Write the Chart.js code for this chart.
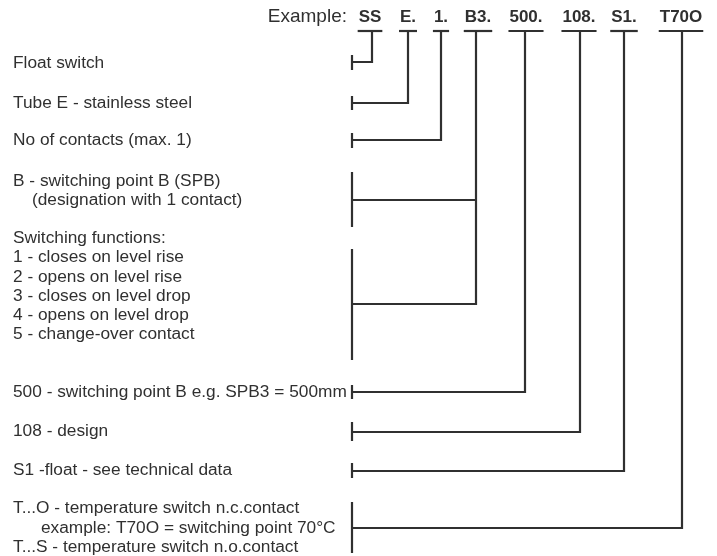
<!DOCTYPE html>
<html>
<head>
<meta charset="utf-8">
<script src="https://cdn.jsdelivr.net/npm/chart.js@4/dist/chart.umd.min.js"></script>
<style>
  html, body { margin: 0; padding: 0; background: #ffffff; }
  #wrap { position: relative; width: 717px; height: 556px; }
</style>
</head>
<body>
<div id="wrap"><canvas id="c"></canvas></div>
<script>
// ---- data ----
const codeLabels = ['SS', 'E.', '1.', 'B3.', '500.', '108.', 'S1.', 'T70O'];
const codeStemX  = [372, 408, 441, 476, 525, 580, 624, 682];
const labelX     = [370, 408, 441, 478, 526, 579, 624, 681];
// row (y) where each code's branch meets the left bracket; B3 has two
const codeJoins  = [[62], [103], [140], [200, 304], [392], [432], [471], [528]];
// left bracket spans [top, bottom]
const bracketTop    = [55, 96, 133, 172, 249, 385, 422, 463, 502];
const bracketBottom = [70, 110, 148, 227, 360, 399, 441, 478, 553];
const descText = [
  'Float switch',
  'Tube E - stainless steel',
  'No of contacts (max. 1)',
  'B - switching point B (SPB)',
  '(designation with 1 contact)',
  'Switching functions:',
  '1 - closes on level rise',
  '2 - opens on level rise',
  '3 - closes on level drop',
  '4 - opens on level drop',
  '5 - change-over contact',
  '500 - switching point B e.g. SPB3 = 500mm',
  '108 - design',
  'S1 -float - see technical data',
  'T...O - temperature switch n.c.contact',
  'example: T70O = switching point 70°C',
  'T...S - temperature switch n.o.contact'
];
const descY = [63, 103, 140, 181, 200, 238, 257, 277, 296, 315, 334, 392, 431, 470, 508, 528, 547];
const descX = [13, 13, 13, 13, 32, 13, 13, 13, 13, 13, 13, 13, 13, 13, 13, 41, 13];
const exampleTitle = 'Example:';

// ---- layout constants ----
const INK = '#303030';
const bodyFont = '17.3px "Liberation Sans", Arial, sans-serif';
const boldFont = 'bold 17px "Liberation Sans", Arial, sans-serif';
const titleFont = '19px "Liberation Sans", Arial, sans-serif';
const underlineY = 31;
const bracketX = 352;
const labelBase = 21.5;

// measure label widths for underlines
const mctx = document.createElement('canvas').getContext('2d');
mctx.font = boldFont;
const labelW = codeLabels.map(t => mctx.measureText(t).width);

const datasets = [];
function seg(points) {
  datasets.push({
    type: 'line',
    data: points,
    borderColor: INK,
    borderWidth: 2.2,
    pointRadius: 0,
    fill: false,
    tension: 0,
    borderCapStyle: 'butt',
    borderJoinStyle: 'miter'
  });
}
// underlines
codeLabels.forEach((t, i) => {
  const w = labelW[i] + 2;
  seg([{x: labelX[i] - w / 2, y: underlineY}, {x: labelX[i] + w / 2, y: underlineY}]);
});
// stems and branches
codeStemX.forEach((x, i) => {
  const joins = codeJoins[i];
  const last = Math.max(...joins);
  seg([{x: x, y: underlineY}, {x: x, y: last}, {x: bracketX, y: last}]);
  joins.filter(j => j !== last).forEach(j => seg([{x: bracketX, y: j}, {x: x, y: j}]));
});
// brackets
bracketTop.forEach((t, i) => seg([{x: bracketX, y: t}, {x: bracketX, y: bracketBottom[i]}]));

const textPlugin = {
  id: 'texts',
  afterDraw(chart) {
    const {ctx, scales: {x, y}} = chart;
    ctx.save();
    ctx.fillStyle = INK;
    ctx.textBaseline = 'middle';
    ctx.textAlign = 'left';
    ctx.font = bodyFont;
    descText.forEach((t, i) => ctx.fillText(t, x.getPixelForValue(descX[i]), y.getPixelForValue(descY[i])));
    ctx.textBaseline = 'alphabetic';
    ctx.font = titleFont;
    ctx.textAlign = 'right';
    ctx.fillText(exampleTitle, x.getPixelForValue(347), y.getPixelForValue(labelBase));
    ctx.font = boldFont;
    ctx.textAlign = 'center';
    codeLabels.forEach((t, i) => ctx.fillText(t, x.getPixelForValue(labelX[i]), y.getPixelForValue(labelBase)));
    ctx.restore();
  }
};

new Chart(document.getElementById('c'), {
  type: 'scatter',
  data: { datasets },
  options: {
    responsive: true,
    maintainAspectRatio: false,
    animation: false,
    layout: { padding: 0 },
    plugins: { legend: { display: false }, tooltip: { enabled: false } },
    scales: {
      x: { type: 'linear', min: 0, max: 717, display: false },
      y: { type: 'linear', min: 0, max: 556, reverse: true, display: false }
    }
  },
  plugins: [textPlugin]
});
</script>
</body>
</html>
